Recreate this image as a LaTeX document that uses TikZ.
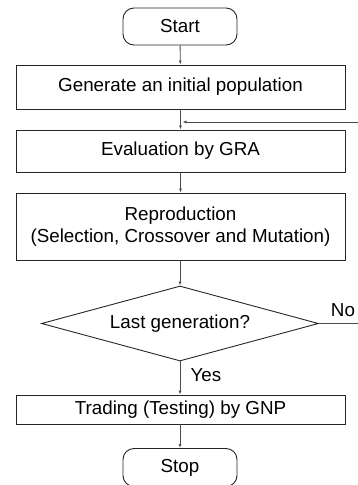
\documentclass[tikz,border=0pt]{standalone}
\usepackage{fontspec}
\setmainfont{Liberation Sans}
\usetikzlibrary{shapes.geometric,arrows.meta}
\begin{document}
\begin{tikzpicture}[x=1pt,y=1pt,
  font=\fontsize{18.8}{22}\selectfont,
  box/.style={draw=black!85, line width=0.9pt, minimum width=329pt, inner sep=0pt, align=center},
  term/.style={draw=black!85, line width=0.9pt, rounded corners=11pt, minimum width=114pt, inner sep=0pt},
  decision/.style={draw=black!85, line width=0.9pt, diamond, aspect=3.7, inner sep=0pt, minimum width=277pt, minimum height=75pt},
  conn/.style={draw=black!70, line width=0.9pt, -{Latex[length=4pt,width=3pt]}},
  plain/.style={draw=black!70, line width=0.9pt}]
\useasboundingbox (0,0) rectangle (357,-485);
\node[term, minimum height=37pt] (start) at (180,-26.5) {Start};
\node[box, minimum height=44pt] (gen) at (180.5,-87) {Generate an initial population};
\node[box, minimum height=42pt] (eval) at (180.5,-151) {Evaluation by GRA};
\node[box, minimum height=67pt] (repr) at (180.5,-226.5) {Reproduction\\(Selection, Crossover and Mutation)};
\node[decision] (dec) at (180,-323.5) {Last generation?};
\node[box, minimum height=29pt] (trade) at (180.5,-409.5) {Trading (Testing) by GNP};
\node[term, minimum height=38pt] (stop) at (180,-467.5) {Stop};
\node (no) at (343,-310) {No};
\node (yes) at (206,-375) {Yes};
\coordinate (fb) at (358,-122);
\coordinate (noend) at (358,-323.5);
\draw[conn] (start) -- (gen);
\draw[conn] (gen) -- (eval);
\draw[conn, shorten >=2pt] (fb) -- (gen.south |- fb);
\draw[conn] (eval) -- (repr);
\draw[conn] (repr.south -| dec.north) -- (dec.north);
\draw[plain] (dec.east) -- (noend);
\draw[conn] (dec.south) -- (trade.north -| dec.south);
\draw[conn] (trade.south -| stop.north) -- (stop.north);
\end{tikzpicture}
\end{document}
